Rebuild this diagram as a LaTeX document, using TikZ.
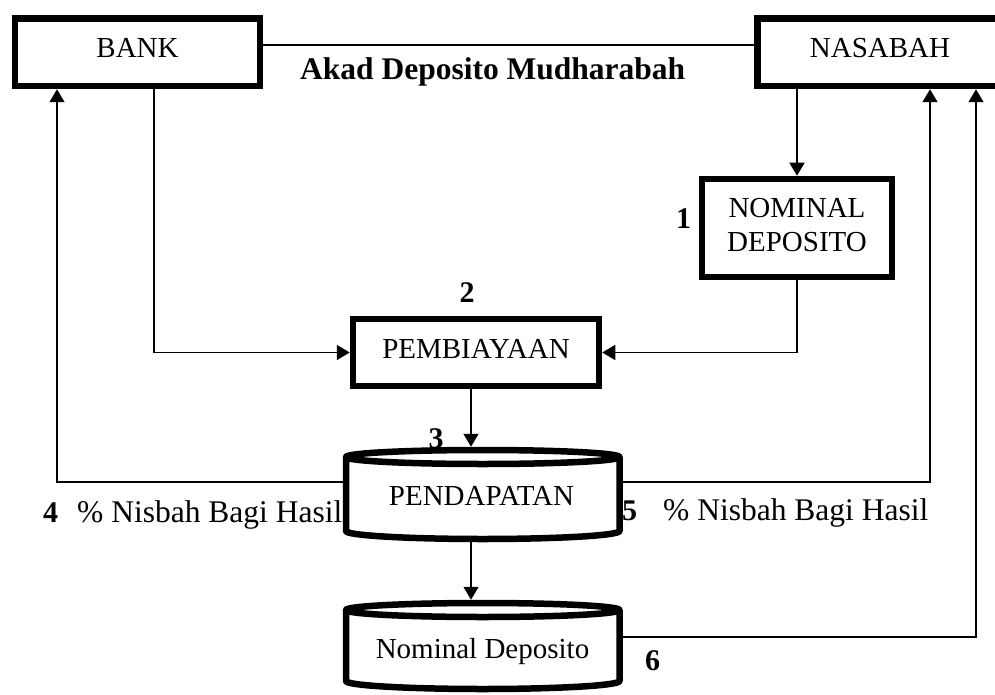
\documentclass[tikz,border=0pt]{standalone}
\usepackage{fontspec}
\setmainfont{Liberation Serif}
\usetikzlibrary{arrows.meta}
\begin{document}
\begin{tikzpicture}[x=1pt,y=-1pt,
  boxtext/.style={font=\fontsize{29}{34}\selectfont},
  procbox/.style={draw, line width=6.5pt, rectangle, inner sep=0pt, boxtext},
  onetext/.style={text height=19.2pt, text depth=7.5pt},
  flow/.style={line width=1.5pt, -{Triangle[width=15pt,length=13pt]}},
  plainline/.style={line width=1.5pt},
  cylarea/.style={rectangle, inner sep=0pt, outer sep=0pt},
  thickline/.style={line width=6.5pt, line join=round},
  numlbl/.style={font=\fontsize{30}{34}\selectfont\bfseries, anchor=base, inner sep=0pt},
  lbl/.style={font=\fontsize{31.5}{36}\selectfont, anchor=base west, inner sep=0pt}
]
\useasboundingbox (0,0) rectangle (995,695);
\clip (0,0) rectangle (995,695);

% boxes
\node[procbox, onetext, minimum width=245pt, minimum height=67.7pt] (bank) at (137.5,52.15) {BANK};
\node[procbox, onetext, minimum width=245pt, minimum height=67.7pt] (nasabah) at (880,52.15) {NASABAH};
\node[procbox, align=center, minimum width=190pt, minimum height=98pt] (nominal) at (797,228) {NOMINAL\\DEPOSITO\rule[-6pt]{0pt}{6pt}};
\node[procbox, onetext, minimum width=246pt, minimum height=67pt] (pemb) at (476,352.5) {PEMBIAYAAN};

% cylinder areas
\node[cylarea, minimum width=280pt, minimum height=95.5pt] (pend) at (482.75,494.5) {};
\node[cylarea, minimum width=280pt, minimum height=92.5pt] (nomd) at (482.75,646) {};

% connectors
\draw[plainline] ([yshift=7.15pt]bank.east) -- ([yshift=7.15pt]bank.east -| nasabah.west);
\draw[flow] (nominal.north |- nasabah.south) -- (nominal.north);
\draw[flow] ([xshift=16.5pt]bank.south) |- (pemb.west);
\draw[flow] (nominal.south) |- (pemb.east);
\draw[flow] ([xshift=-5pt]pemb.south) -- ([xshift=-5pt]pemb.south |- pend.north);
\draw[flow] ([xshift=-11.75pt]pend.south) -- ([xshift=-11.75pt]pend.south |- nomd.north);
\draw[flow] ([yshift=12.5pt]pend.west) -| ([xshift=-80.5pt]bank.south);
\draw[flow] ([yshift=12.5pt]pend.east) -| ([xshift=50pt]nasabah.south);
\draw[flow] ([yshift=9pt]nomd.east) -| ([xshift=96pt]nasabah.south);

\node[numlbl] (n3) at (436,448) {3};

% cylinder PENDAPATAN
\fill[white] (346,457) -- (346,531) .. controls (346,535.42) and (407.22,539) .. (482.75,539) .. controls (558.28,539) and (619.5,535.42) .. (619.5,531) -- (619.5,457) -- cycle;
\draw[thickline] (346,457) -- (346,531) .. controls (346,535.42) and (407.22,539) .. (482.75,539) .. controls (558.28,539) and (619.5,535.42) .. (619.5,531) -- (619.5,457);
\draw[thickline, fill=white] (482.75,457) ellipse [x radius=136.75, y radius=7];

% cylinder Nominal Deposito
\fill[white] (346,610) -- (346,681) .. controls (346,685.42) and (407.22,689) .. (482.75,689) .. controls (558.28,689) and (619.5,685.42) .. (619.5,681) -- (619.5,610) -- cycle;
\draw[thickline] (346,610) -- (346,681) .. controls (346,685.42) and (407.22,689) .. (482.75,689) .. controls (558.28,689) and (619.5,685.42) .. (619.5,681) -- (619.5,610);
\draw[thickline, fill=white] (482.75,610) ellipse [x radius=136.75, y radius=7];

\node[boxtext, anchor=base, inner sep=0pt] (pendtxt) at (481.5,505) {PENDAPATAN};
\node[boxtext, anchor=base, inner sep=0pt] (nomdtxt) at (482.5,658) {Nominal Deposito};

% labels
\node[font=\fontsize{31.5}{36}\selectfont\bfseries, anchor=base west, inner sep=0pt] (akad) at (300,80) {Akad Deposito Mudharabah};
\node[numlbl] (n1) at (683.5,228) {1};
\node[numlbl] (n2) at (467,302) {2};
\node[numlbl] (n4) at (50.5,522) {4};
\node[lbl] (l4) at (77,522) {\% Nisbah Bagi Hasil};
\node[numlbl] (n5) at (629.5,520) {5};
\node[lbl] (l5) at (663,520) {\% Nisbah Bagi Hasil};
\node[numlbl] (n6) at (652.5,670) {6};
\end{tikzpicture}
\end{document}
